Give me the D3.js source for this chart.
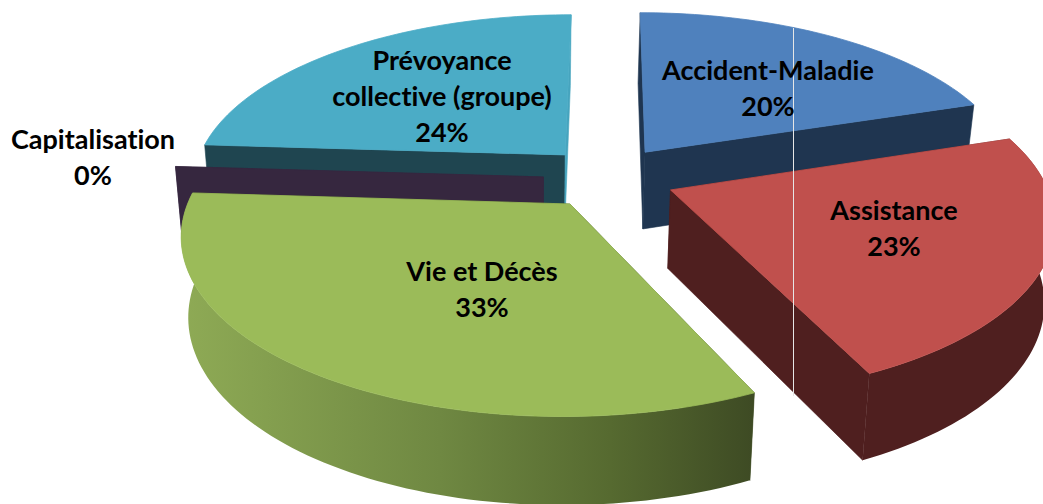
<!DOCTYPE html>
<html lang="fr">
<head>
<meta charset="utf-8">
<script src="https://cdn.jsdelivr.net/npm/d3@7"></script>
<style>
  html, body { margin: 0; padding: 0; background: #fff; }
  svg { display: block; }
  .label { font-family: Lato, "Open Sans", sans-serif; font-weight: 700; font-size: 27px; fill: #000; text-anchor: middle; font-variant-ligatures: none; }
</style>
</head>
<body>
<svg id="chart" width="1043" height="504"></svg>
<script>
// valeurs
const categories = ['Accident-Maladie', 'Assistance', 'Vie et Décès', 'Capitalisation', 'Prévoyance collective (groupe)'];
const percents = [20, 23, 33, 0, 24];
const labelLines = [['Accident-Maladie'], ['Assistance'], ['Vie et Décès'], ['Capitalisation'], ['Prévoyance', 'collective (groupe)']];
const topColors = ['#4f81bd', '#c0504d', '#9bbb59', '#8064a2', '#4bacc6'];
const wallColors = ['#1f3550', '#4f1f1f', '#3e4b24', '#36273f', '#1f4550'];
const endWallColors = ['#1f3550', '#4f1f1f', '#3e4b24', '#36273f', '#46a4be'];

const width = 1043, height = 504;

// projection : disque incliné avec perspective
const cx = 609, cy = 180;
const persp = 0.16, depth = 78, bottomScaleX = 0.98, bottomShiftX = -1.5, bottomScaleY = 1.045;
const xscale = d3.scaleLinear().domain([-1, 1]).range([-374, 374]);
const yscale = d3.scaleLinear().domain([-1, 1]).range([170, -170]);

function project(x, y, bottom) {
    const w = 1 + persp * y;
    const sx = xscale(x) / w, sy = yscale(y) / w;
    if (bottom) return [cx + bottomShiftX + sx * bottomScaleX, cy + depth + sy * bottomScaleY];
    return [cx + sx, cy + sy];
}

// décalage de chaque part (éclaté), repère du disque
const explode = [[0.099, 0.168], [0.163, -0.058], [-0.102, -0.138], [-0.176, 0.018], [-0.12, 0.151]];
const labelPos = [[768, 80], [894, 220], [482, 281], [93, 149], [442, 70]];
// ordre de dessin : du fond vers l'avant
const drawOrder = [4, 3, 2, 0, 1];

const pie = d3.pie().sort(null).value(d => d);
const arcs = pie(percents);

const svg = d3.select('#chart');
const line = d3.line();

const defs = svg.append('defs');
const grad = defs.append('linearGradient')
    .attr('id', 'greenWall')
    .attr('gradientUnits', 'userSpaceOnUse')
    .attr('x1', 184).attr('y1', 0).attr('x2', 752).attr('y2', 0);
grad.selectAll('stop')
    .data([[0, '#8eaa55'], [0.45, '#6f8842'], [0.75, '#566a30'], [1, '#3e4b24']])
    .join('stop')
    .attr('offset', d => d[0])
    .attr('stop-color', d => d[1]);

function arcPoints(i, bottom) {
    const a0 = arcs[i].startAngle, a1 = arcs[i].endAngle;
    const n = Math.max(2, Math.ceil((a1 - a0) * 40));
    return d3.range(n + 1).map(k => {
        const a = a0 + (a1 - a0) * k / n;
        return project(explode[i][0] + Math.sin(a), explode[i][1] + Math.cos(a), bottom);
    });
}

const slices = svg.selectAll('g.slice')
    .data(drawOrder)
    .join('g')
    .attr('class', 'slice');

slices.each(function(i) {
    const g = d3.select(this);
    const apexTop = project(explode[i][0], explode[i][1], false);
    const apexBottom = project(explode[i][0], explode[i][1], true);
    const top = arcPoints(i, false);
    const bot = arcPoints(i, true);
    const mid = (arcs[i].startAngle + arcs[i].endAngle) / 2;

    // faces radiales
    g.append('path')
        .attr('d', line([apexTop, top[0], bot[0], apexBottom]) + 'Z')
        .attr('fill', wallColors[i])
        .attr('stroke', wallColors[i])
        .attr('stroke-width', 0.6);
    g.append('path')
        .attr('d', line([apexTop, top[top.length - 1], bot[bot.length - 1], apexBottom]) + 'Z')
        .attr('fill', endWallColors[i])
        .attr('stroke', endWallColors[i])
        .attr('stroke-width', 0.6);
    // face extérieure (seulement les parts tournées vers l'avant)
    if (Math.cos(mid) < 0) {
        g.append('path')
            .attr('d', line(top.concat(bot.slice().reverse())) + 'Z')
            .attr('fill', i === 2 ? 'url(#greenWall)' : wallColors[i]);
    }
    // dessus
    if (percents[i] > 0) {
        g.append('path')
            .attr('d', line([apexTop].concat(top)) + 'Z')
            .attr('fill', topColors[i])
            .attr('stroke', topColors[i])
            .attr('stroke-width', 0.8);
    }
});

// trait clair vertical présent sur l'image
svg.append('line')
    .attr('x1', 793.5).attr('x2', 793.5)
    .attr('y1', 28).attr('y2', 396)
    .attr('stroke', '#e6e6e6')
    .attr('stroke-width', 1);

const lineHeight = 36;
const labels = svg.selectAll('text.label')
    .data(categories)
    .join('text')
    .attr('class', 'label')
    .attr('x', (d, i) => labelPos[i][0])
    .attr('y', (d, i) => labelPos[i][1]);

labels.each(function(d, i) {
    const t = d3.select(this);
    labelLines[i].concat([percents[i] + '%']).forEach((s, k) => {
        t.append('tspan')
            .attr('x', labelPos[i][0])
            .attr('y', labelPos[i][1] + k * lineHeight)
            .text(s);
    });
});
</script>
</body>
</html>
